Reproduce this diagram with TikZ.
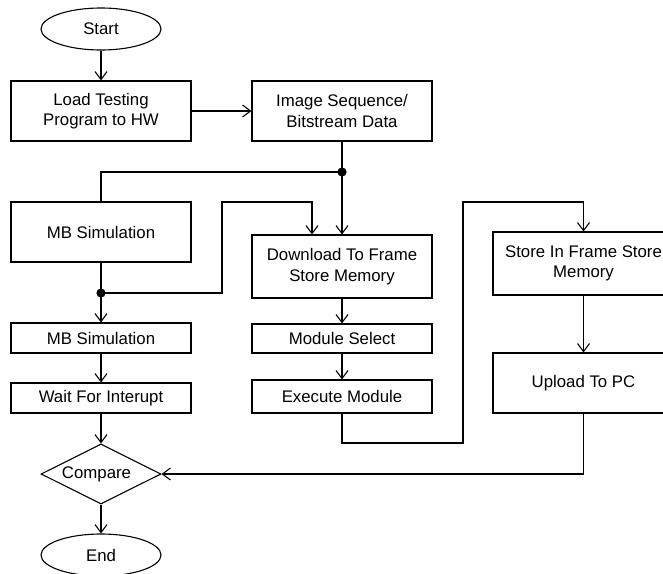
\documentclass[tikz,border=0pt]{standalone}
\usepackage{fontspec}
\setmainfont{Liberation Sans}
\usetikzlibrary{shapes.geometric,arrows.meta}

\begin{document}
\begin{tikzpicture}[
  x=1pt, y=-1pt,
  every node/.style={font=\fontsize{16.8}{20.4}\selectfont, align=center, inner sep=0pt},
  procbox/.style={draw, line width=1.1pt, rectangle, minimum width=180pt},
  termbox/.style={draw, line width=1.1pt, ellipse, minimum width=120pt, minimum height=42pt},
  decbox/.style={draw, line width=1.1pt, diamond, aspect=2, minimum width=120pt, minimum height=60pt},
  link/.style={line width=1.1pt},
  flow/.style={link, -{Straight Barb[length=8pt,width=12pt,line width=1.1pt]}},
  junction/.style={fill, circle, minimum size=9.2pt, inner sep=0pt}
]
% page frame
\useasboundingbox (0,0) rectangle (663,573);

% left column
\node[termbox] (start) at (101,29) {Start};
\node[procbox, minimum height=60pt] (load) at (101,111) {Load Testing\\Program to HW};
\node[procbox, minimum height=60pt] (mbsa) at (101,232) {MB Simulation};
\node[procbox, minimum height=30pt] (mbsb) at (101,338) {MB Simulation};
\node[procbox, minimum height=30pt] (wait) at (101,398) {Wait For Interupt};
\node[decbox] (cmp) at (101,474) {Compare\hspace*{9pt}};
\node[termbox] (finish) at (101,555) {End};

% middle column
\node[procbox, minimum height=60pt] (img) at (342,111) {Image Sequence/\\Bitstream Data};
\node[procbox, minimum height=63pt] (dl) at (342,266.5) {Download To Frame\\Store Memory};
\node[procbox, minimum height=29pt] (msel) at (342,338.5) {Module Select};
\node[procbox, minimum height=33pt] (exe) at (342,396.5) {Execute Module};

% right column
\node[procbox, minimum width=181pt, minimum height=63pt] (store) at (583.5,263.5) {Store In Frame Store\\Memory};
\node[procbox, minimum width=181pt, minimum height=60pt] (upl) at (583.5,383) {Upload To PC};

% junction points and bends
\node[junction] (ja) at (342,172) {};
\node[junction] (jb) at (101,293) {};
\coordinate (ba) at (222,202);
\coordinate (bb) at (463,443);
\coordinate (bc) at (463,202);

% connectors
\draw[flow] (start) -- (load);
\draw[flow] (load) -- (img);
\draw[link] (img.south) -- (ja.center);
\draw[flow] (ja.center) -- (dl.north);
\draw[link] (ja.center) -| (mbsa.north);
\draw[link] (mbsa.south) -- (jb.center);
\draw[flow] (jb.center) -- (mbsb.north);
\draw[flow] (jb.center) -| (ba) -| ([xshift=-30pt]dl.north);
\draw[flow] (dl) -- (msel);
\draw[flow] (msel) -- (exe);
\draw[flow] (mbsb) -- (wait);
\draw[flow] (wait.south) -- (cmp.north);
\draw[flow] (cmp.south) -- (finish.north);
\draw[flow] (exe.south) |- (bb) -- (bc) -| (store.north);
\draw[flow] (store) -- (upl);
\draw[flow] (upl.south) |- (cmp.east);
\end{tikzpicture}
\end{document}
